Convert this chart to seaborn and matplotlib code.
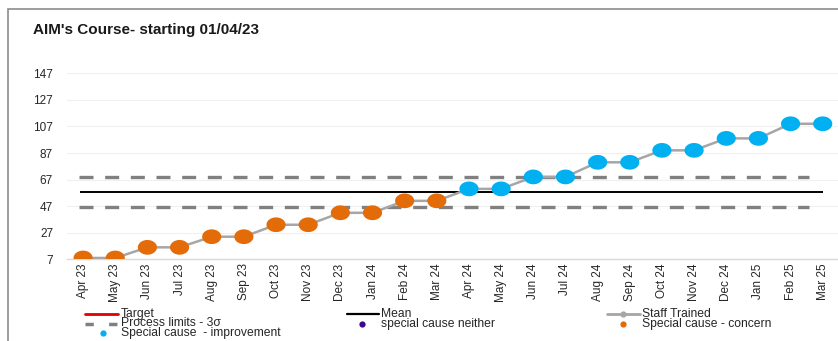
import matplotlib
matplotlib.use("Agg")
import matplotlib.pyplot as plt
from matplotlib.lines import Line2D
from matplotlib.patches import Rectangle
from matplotlib.path import Path
import seaborn as sns
import pandas as pd
import numpy as np

sns.set_theme(style="white")
plt.rcParams["font.family"] = ["Liberation Sans", "DejaVu Sans"]

# Monthly cumulative staff trained on the AIM course
months = ["Apr 23", "May 23", "Jun 23", "Jul 23", "Aug 23", "Sep 23", "Oct 23", "Nov 23",
          "Dec 23", "Jan 24", "Feb 24", "Mar 24", "Apr 24", "May 24", "Jun 24", "Jul 24",
          "Aug 24", "Sep 24", "Oct 24", "Nov 24", "Dec 24", "Jan 25", "Feb 25", "Mar 25"]
staff_trained = [8, 8, 16, 16, 24, 24, 33, 33, 42, 42, 51, 51,
                 60, 60, 69, 69, 80, 80, 89, 89, 98, 98, 109, 109]
special_cause = ["concern"] * 12 + ["improvement"] * 12
mean_value = 57.5
upper_limit = 69
lower_limit = 46
y_ticks = [7, 27, 47, 67, 87, 107, 127, 147]

df = pd.DataFrame({"idx": range(len(months)), "month": months,
                   "value": staff_trained, "cause": special_cause})

C_LINE = "#A6A6A6"
C_LIMIT = "#808080"
C_CONCERN = "#E36C09"
C_IMPROVE = "#00B0F0"
C_NEITHER = "#3B0A8C"
C_TARGET = "#E00000"
C_TEXT = "#262626"

# slightly wide oval marker for the data points
theta = np.linspace(0, 2 * np.pi, 60)
oval = Path(np.column_stack([1.3 * np.cos(theta), np.sin(theta)]), closed=True)

fig = plt.figure(figsize=(8.38, 3.41), dpi=100)
fig.patches.append(Rectangle((7.5 / 838, -0.1), 2, 1.1 - 8.5 / 341, transform=fig.transFigure,
                             fill=False, edgecolor="#8C8C8C", linewidth=1.2))
ax = fig.add_axes([67 / 838, (341 - 259.3) / 341, (838.8 - 67) / 838, 190 / 341])

n = len(months)
ax.hlines(mean_value, -0.1, n - 1, color="black", linewidth=1.4, zorder=2)
for lim in (upper_limit, lower_limit):
    ax.hlines(lim, -0.12, n - 1.42, color=C_LIMIT, linewidth=2.4,
              linestyles=(0, (4.2, 3.5)), zorder=2)

sns.lineplot(data=df, x="idx", y="value", color=C_LINE, linewidth=1.8, ax=ax, zorder=3,
             legend=False)
sns.scatterplot(data=df, x="idx", y="value", hue="cause",
                palette={"concern": C_CONCERN, "improvement": C_IMPROVE},
                marker=oval, s=190, linewidth=0, ax=ax, zorder=4, legend=False)

ax.set_xlim(-0.5, n - 0.5)
ax.set_ylim(7, 150)
ax.set_yticks(y_ticks)
ax.set_yticklabels([str(t) for t in y_ticks], fontsize=8.5, color=C_TEXT)
ax.set_xticks(range(n))
ax.set_xticklabels(months, rotation=90, fontsize=8.5, color=C_TEXT)
ax.tick_params(axis="both", length=0, pad=3)
ax.tick_params(axis="y", pad=10)
ax.set_xlabel("")
ax.set_ylabel("")
ax.grid(axis="y", color="#F0F0F0", linewidth=0.8)
ax.set_axisbelow(True)
for side in ("top", "right", "left"):
    ax.spines[side].set_visible(False)
ax.spines["bottom"].set_color("#D9D9D9")
ax.spines["bottom"].set_linewidth(1.0)

fig.text(33 / 838, 1 - 30 / 341, "AIM's Course- starting 01/04/23", fontsize=11,
         fontweight="bold", color="#1A1A1A", va="center", ha="left")


# legend drawn as three columns of key + label
def fx(px):
    return px / 838


def fy(py):
    return 1 - py / 341


def key_line(x0, x1, y, **kw):
    fig.add_artist(Line2D([fx(x0), fx(x1)], [fy(y), fy(y)], transform=fig.transFigure, **kw))


def key_dot(x, y, color):
    fig.add_artist(Line2D([fx(x)], [fy(y)], transform=fig.transFigure, linestyle="none",
                          marker="o", markersize=4.5, markerfacecolor=color,
                          markeredgecolor="none"))


def key_text(x, y, s):
    fig.text(fx(x), fy(y), s, fontsize=8.7, color=C_TEXT, va="center", ha="left")


key_line(85, 118, 314, color=C_TARGET, linewidth=2)
key_text(121, 314, "Target")
key_line(85, 118, 323.5, color=C_LIMIT, linewidth=2.5, linestyle=(0, (2.4, 4.4)))
key_text(121, 323.5, "Process limits - 3σ")
key_dot(103, 333, C_IMPROVE)
key_text(121, 333, "Special cause  - improvement")

key_line(347, 379, 314, color="black", linewidth=1.6)
key_text(381, 314, "Mean")
key_dot(362, 323.5, C_NEITHER)
key_text(381, 323.5, "special cause neither")

key_line(607, 640, 314, color=C_LINE, linewidth=2)
key_dot(623, 314, C_LINE)
key_text(642, 314, "Staff Trained")
key_dot(623, 323.5, C_CONCERN)
key_text(642, 323.5, "Special cause - concern")

fig.savefig("out.png", dpi=100)
